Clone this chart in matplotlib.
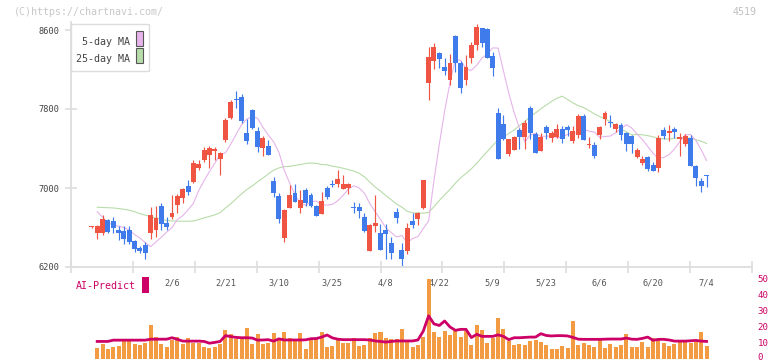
import matplotlib
matplotlib.use("Agg")
import matplotlib.pyplot as plt
from matplotlib.patches import Rectangle
from matplotlib.transforms import blended_transform_factory, ScaledTranslation
import numpy as np
import pandas as pd

W, H = 772, 361

# daily candles (slot 0 .. 115)
open_px = [6605, 6547, 6547, 6676, 6666, 6575, 6568, 6575, 6463, 6389,
           6423, 6547, 6575, 6818, 6649, 6703, 6828, 6896, 7020, 7064,
           7199, 7284, 7334, 7378, 7294, 7486, 7706, 7905, 7918, 7560,
           7790, 7577, 7408, 7425, 7071, 6919, 6497, 6801, 6946, 6794,
           6980, 6929, 6818, 6740, 7003, 7040, 7037, 6990, 6997, 6805,
           6804, 6709, 6365, 6618, 6547, 6575, 6446, 6760, 6372, 6365,
           6666, 6683, 6794, 8060, 8289, 8364, 8228, 8094, 8539, 8262,
           8094, 8320, 8448, 8617, 8610, 8337, 7763, 7648, 7344, 7385,
           7587, 7520, 7813, 7543, 7378, 7614, 7503, 7513, 7594, 7621,
           7479, 7537, 7733, 7440, 7435, 7537, 7696, 7670, 7594, 7638,
           7560, 7530, 7317, 7256, 7317, 7233, 7206, 7587, 7560, 7597,
           7500, 7446, 7510, 7223, 7071, 7125]
high_px = [6620, 6625, 6727, 6686, 6709, 6615, 6615, 6615, 6473, 6413,
           6456, 6805, 6818, 6845, 6703, 6929, 6939, 6997, 7081, 7284,
           7284, 7418, 7425, 7418, 7368, 7706, 7891, 7982, 7952, 7696,
           7800, 7621, 7527, 7486, 7108, 6953, 6784, 7030, 7040, 6980,
           6997, 6946, 6828, 6963, 7020, 7081, 7182, 7132, 7047, 6861,
           6845, 6744, 6635, 6929, 6635, 6635, 6500, 6801, 6440, 6649,
           6744, 6760, 7081, 8431, 8472, 8374, 8316, 8354, 8549, 8289,
           8347, 8482, 8661, 8617, 8617, 8381, 7807, 7739, 7500, 7530,
           7604, 7689, 7831, 7570, 7554, 7638, 7577, 7648, 7628, 7638,
           7628, 7747, 7747, 7513, 7469, 7628, 7780, 7739, 7662, 7656,
           7570, 7537, 7408, 7324, 7324, 7263, 7537, 7621, 7638, 7621,
           7554, 7547, 7537, 7230, 7105, 7132]
low_px = [6600, 6480, 6524, 6540, 6541, 6473, 6430, 6433, 6355, 6345,
          6278, 6480, 6507, 6575, 6575, 6683, 6744, 6845, 6929, 7047,
          7182, 7266, 7199, 7284, 7132, 7469, 7700, 7813, 7662, 7446,
          7594, 7368, 7324, 7334, 6906, 6649, 6456, 6795, 6855, 6744,
          6821, 6804, 6720, 6740, 6885, 7013, 7013, 6985, 6936, 6744,
          6693, 6557, 6365, 6557, 6372, 6278, 6278, 6649, 6210, 6332,
          6592, 6625, 6784, 7891, 8201, 8211, 8144, 8043, 8175, 7959,
          8043, 8262, 8398, 8431, 8313, 8134, 7297, 7486, 7324, 7385,
          7395, 7395, 7493, 7357, 7371, 7500, 7466, 7503, 7453, 7530,
          7453, 7503, 7486, 7402, 7307, 7493, 7638, 7621, 7570, 7486,
          7375, 7358, 7307, 7233, 7172, 7175, 7165, 7493, 7479, 7503,
          7324, 7425, 7226, 7023, 6963, 7007]
close_px = [6615, 6615, 6686, 6557, 6598, 6547, 6484, 6456, 6379, 6365,
            6345, 6727, 6693, 6635, 6602, 6750, 6919, 6987, 6963, 7256,
            7243, 7385, 7408, 7395, 7351, 7689, 7874, 7895, 7682, 7479,
            7604, 7418, 7503, 7334, 6953, 6686, 6777, 6929, 6861, 6878,
            6851, 6821, 6720, 6868, 6912, 7035, 7091, 7037, 7040, 6800,
            6767, 6568, 6625, 6649, 6372, 6531, 6345, 6699, 6278, 6592,
            6625, 6750, 7081, 8330, 8431, 8306, 8188, 8262, 8269, 8009,
            8228, 8448, 8633, 8472, 8313, 8219, 7297, 7496, 7496, 7520,
            7520, 7662, 7560, 7357, 7520, 7554, 7554, 7594, 7493, 7587,
            7577, 7733, 7486, 7450, 7324, 7614, 7756, 7655, 7645, 7537,
            7446, 7446, 7385, 7290, 7189, 7175, 7510, 7527, 7577, 7564,
            7513, 7527, 7226, 7105, 7020, 7120]

# moving-average values at the start, where the window reaches before the chart
ma5_head = [6760, 6705, 6650, 6625]                       # slots 1-4
ma25_head = [6805, 6803, 6800, 6798, 6792, 6785, 6775, 6760, 6740, 6725,
             6710, 6695, 6682, 6672, 6666, 6664, 6663, 6663, 6666, 6680,
             6698, 6712, 6728, 6750]                      # slots 1-24

# lower panel (slots 1 .. 115)
volume = [6.4, 8.75, 5.8, 7.1, 7.7, 10.6, 11.9, 8.75, 8.1, 9.4,
          20.6, 13.3, 8.75, 6.9, 11.25, 13.3, 8.75, 12.9, 9.4, 9.6,
          6.9, 6.25, 6.9, 8.75, 17.5, 15, 12.3, 13.3, 18.75, 8.75,
          15, 8.75, 9.6, 15.8, 12.9, 16.5, 12.5, 11.25, 15.8, 5.6,
          11.25, 12.5, 16.5, 7.1, 7.5, 12, 9.6, 9.6, 12.9, 7.5,
          8.3, 12.9, 15.8, 16.5, 12.9, 12, 12, 18.1, 10.6, 6.9,
          8.1, 13.1, 49.4, 16.25, 13.1, 16.9, 14.4, 16.9, 13.1, 16.9,
          8.1, 20.6, 17.5, 9.4, 12.5, 25, 18.1, 10.6, 8.1, 8.75,
          8.1, 10.6, 11.25, 10, 8.1, 5.6, 5.6, 7.5, 6.25, 23.1,
          8.1, 9.4, 8.1, 6.9, 11.25, 6.25, 8.75, 6.9, 8.1, 15,
          6.9, 6.9, 10, 6.9, 12.5, 11.25, 9.4, 7.5, 8.75, 10,
          10, 9.4, 10, 16.25, 7.5]
ai_predict = [10.6, 10.6, 10.6, 11.4, 11.4, 11.4, 11.4, 11.4, 11.4, 11.4,
              12.0, 12.0, 12.0, 12.0, 12.9, 11.9, 10.8, 10.8, 10.8, 10.8,
              10.6, 9.5, 10.0, 10.6, 14.2, 13.6, 13.1, 12.9, 12.9, 12.7,
              11.4, 11.5, 11.7, 10.8, 12.2, 11.5, 11.5, 11.5, 11.5, 11.6,
              12.3, 12.4, 13.3, 14.6, 12.8, 12.0, 11.7, 11.7, 11.7, 11.7,
              11.7, 11.5, 10.9, 10.6, 10.2, 10.6, 10.9, 10.9, 10.9, 10.9,
              11.5, 17.0, 26.5, 21.5, 20.5, 23.3, 19.6, 17.5, 18.1, 18.1,
              13.0, 15.0, 13.75, 13.75, 13.75, 14.7, 13.75, 11.7, 12.9, 12.9,
              13.1, 13.3, 13.3, 15.4, 14.3, 14.0, 14.2, 14.2, 14.0, 13.1,
              12.0, 11.9, 11.9, 11.9, 11.9, 12.0, 12.1, 12.1, 12.1, 12.7,
              12.0, 11.9, 12.5, 13.3, 11.3, 11.9, 11.9, 11.5, 10.8, 10.8,
              10.8, 11.0, 11.2, 10.8, 10.6]

date_labels = ['2/6', '2/21', '3/10', '3/25', '4/8', '4/22',
               '5/9', '5/23', '6/6', '6/20', '7/4']
date_slots = [15, 25, 35, 45, 55, 65, 75, 85, 95, 105, 115]
price_ticks = [6200, 7000, 7800, 8600]
sub_ticks = [0, 10, 20, 30, 40, 50]

UP = '#f05442'
DOWN = '#3f7bea'
MA5_C = '#e6b4ea'
MA25_C = '#b8dcaa'
VOL_C = '#f39b42'
AI_C = '#cc0066'
AXIS_C = '#dddddd'
MONO = 'DejaVu Sans Mono'


def fx(x):
    return x / W


def fy(y):
    return 1 - y / H


slots = np.arange(len(close_px))
closes = pd.Series(close_px, dtype=float)
ma5 = closes.rolling(5).mean().shift(1).to_numpy()
ma25 = closes.rolling(25).mean().shift(1).to_numpy()
ma5[1:5] = ma5_head
ma25[1:25] = ma25_head

fig = plt.figure(figsize=(W / 100, H / 100), dpi=100)
ax = fig.add_axes([fx(71), fy(267), fx(752) - fx(71), fy(22) - fy(267)])
axv = fig.add_axes([fx(71), fy(358.5), fx(752) - fx(71), fy(278) - fy(358.5)])

xlim = (-3.9, 123.5)

# moving averages under the candles
ax.plot(slots[1:], ma25[1:], color=MA25_C, lw=0.8, zorder=1)
ax.plot(slots[1:], ma5[1:], color=MA5_C, lw=0.8, zorder=1)

# candles
for i in slots:
    o, h, l, c = open_px[i], high_px[i], low_px[i], close_px[i]
    col = UP if c >= o else DOWN
    ax.vlines(i, l, h, color=col, lw=0.85, zorder=2)
    ax.bar(i, max(abs(c - o), 10), bottom=min(o, c), width=0.92,
           color=col, linewidth=0, zorder=3)

ax.set_xlim(*xlim)
ax.set_ylim(6200, 6200 + (267 - 22) * 800 / 79)
ax.set_yticks(price_ticks)
ax.set_yticklabels([str(v) for v in price_ticks], fontsize=6.2,
                   family=MONO, color='#444444')
ax.set_xticks(np.linspace(xlim[0], xlim[1], 12))
ax.set_xticklabels([])
ax.tick_params(axis='both', direction='inout', color=AXIS_C, width=1.2)
ax.tick_params(axis='y', length=8, pad=4)
ax.tick_params(axis='x', length=9)
for side in ['top', 'right']:
    ax.spines[side].set_visible(False)
for side in ['left', 'bottom']:
    ax.spines[side].set_color(AXIS_C)
    ax.spines[side].set_linewidth(1.3)

# date labels between the panels
tr = blended_transform_factory(ax.transData, fig.transFigure)
for s, lab in zip(date_slots, date_labels):
    ax.text(s, fy(282.5), lab, transform=tr, ha='center', va='center',
            fontsize=6.2, family=MONO, color='#555555')

# lower panel
sub_x = slots[1:]
axv.bar(sub_x, volume, width=0.75, color=VOL_C, linewidth=0)
axv.plot(sub_x, ai_predict, color=AI_C, lw=2.0, solid_joinstyle='round')
axv.set_xlim(*xlim)
axv.set_ylim(0, 50)
axv.set_xticks([])
axv.yaxis.tick_right()
axv.set_yticks(sub_ticks)
axv.set_yticklabels([str(v) for v in sub_ticks], fontsize=6.6,
                    family=MONO, color=AI_C)
axv.tick_params(axis='y', length=0, pad=4)
# keep the "0" label inside the picture
zero_lab = axv.get_yticklabels()[0]
zero_lab.set_transform(zero_lab.get_transform()
                       + ScaledTranslation(0, 1.6 / 72, fig.dpi_scale_trans))
for side in axv.spines.values():
    side.set_visible(False)
axv.patch.set_alpha(0)

# legend box
fig.add_artist(Rectangle((fx(70.5), fy(71)), fx(148.5) - fx(70.5), fy(24) - fy(71),
                         transform=fig.transFigure, facecolor='white',
                         edgecolor=AXIS_C, lw=1.0, zorder=5))
fig.text(fx(130), fy(45), '5-day MA', ha='right', va='baseline',
         fontsize=7.2, family=MONO, color='#444444', zorder=6)
fig.text(fx(130), fy(62), '25-day MA', ha='right', va='baseline',
         fontsize=7.2, family=MONO, color='#444444', zorder=6)
for y0, col in [(31.3, MA5_C), (48.3, MA25_C)]:
    fig.add_artist(Rectangle((fx(136.3), fy(y0 + 15)), fx(6.4), fy(y0) - fy(y0 + 15),
                             transform=fig.transFigure, facecolor=col,
                             edgecolor='#555555', lw=0.8, zorder=6))

# AI-Predict label
fig.text(fx(76), fy(286), 'AI-Predict', ha='left', va='center',
         fontsize=7.2, family=MONO, color=AI_C)
fig.add_artist(Rectangle((fx(142.3), fy(292.7)), fx(6.4), fy(277.3) - fy(292.7),
                         transform=fig.transFigure, facecolor=AI_C,
                         edgecolor='none'))

# watermark and code
fig.text(fx(14), fy(12), '(C)https://chartnavi.com/', ha='left', va='center',
         fontsize=7.2, family=MONO, color='#c8c8c8')
fig.text(fx(757), fy(12), '4519', ha='right', va='center',
         fontsize=7.2, family=MONO, color='#c0c0c0')

fig.savefig('out.png', dpi=100)
